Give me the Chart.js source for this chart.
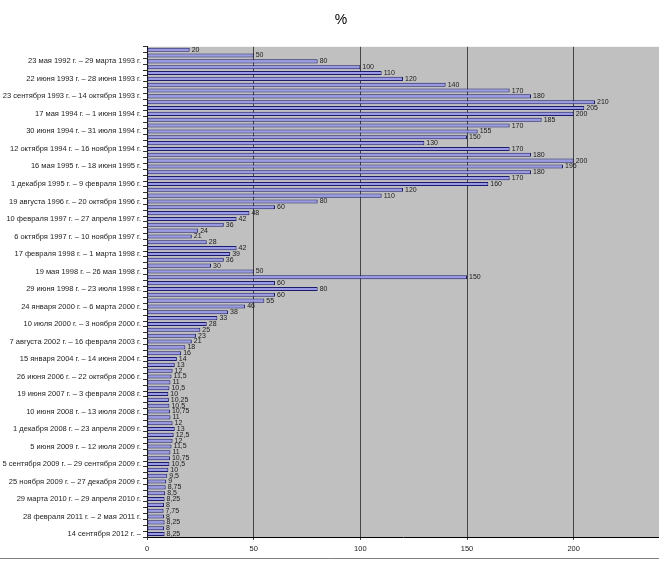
<!DOCTYPE html>
<html>
<head>
<meta charset="utf-8">
<script src="https://cdn.jsdelivr.net/npm/chart.js@4/dist/chart.umd.min.js"></script>
<style>
  html, body { margin: 0; padding: 0; background: #ffffff; }
  #wrap { width: 659px; height: 562px; position: relative; }
</style>
</head>
<body>
<div id="wrap"><canvas id="c" width="659" height="562"></canvas></div>
<script>
// Values (%), one per period, top to bottom
const values = [20, 50, 80, 100, 110, 120, 140, 170, 180, 210,
  205, 200, 185, 170, 155, 150, 130, 170, 180, 200,
  195, 180, 170, 160, 120, 110, 80, 60, 48, 42,
  36, 24, 21, 28, 42, 39, 36, 30, 50, 150,
  60, 80, 60, 55, 46, 38, 33, 28, 25, 23,
  21, 18, 16, 14, 13, 12, 11.5, 11, 10.5, 10,
  10.25, 10.5, 10.75, 11, 12, 13, 12.5, 12, 11.5, 11,
  10.75, 10.5, 10, 9.5, 9, 8.75, 8.5, 8.25, 8, 7.75,
  8, 8.25, 8, 8.25];

// Category labels that are visible (every third period, starting with the third)
const tickLabels = [
  '23 мая 1992 г. – 29 марта 1993 г.',
  '22 июня 1993 г. – 28 июня 1993 г.',
  '23 сентября 1993 г. – 14 октября 1993 г.',
  '17 мая 1994 г. – 1 июня 1994 г.',
  '30 июня 1994 г. – 31 июля 1994 г.',
  '12 октября 1994 г. – 16 ноября 1994 г.',
  '16 мая 1995 г. – 18 июня 1995 г.',
  '1 декабря 1995 г. – 9 февраля 1996 г.',
  '19 августа 1996 г. – 20 октября 1996 г.',
  '10 февраля 1997 г. – 27 апреля 1997 г.',
  '6 октября 1997 г. – 10 ноября 1997 г.',
  '17 февраля 1998 г. – 1 марта 1998 г.',
  '19 мая 1998 г. – 26 мая 1998 г.',
  '29 июня 1998 г. – 23 июля 1998 г.',
  '24 января 2000 г. – 6 марта 2000 г.',
  '10 июля 2000 г. – 3 ноября 2000 г.',
  '7 августа 2002 г. – 16 февраля 2003 г.',
  '15 января 2004 г. – 14 июня 2004 г.',
  '26 июня 2006 г. – 22 октября 2006 г.',
  '19 июня 2007 г. – 3 февраля 2008 г.',
  '10 июня 2008 г. – 13 июля 2008 г.',
  '1 декабря 2008 г. – 23 апреля 2009 г.',
  '5 июня 2009 г. – 12 июля 2009 г.',
  '5 сентября 2009 г. – 29 сентября 2009 г.',
  '25 ноября 2009 г. – 27 декабря 2009 г.',
  '29 марта 2010 г. – 29 апреля 2010 г.',
  '28 февраля 2011 г. – 2 мая 2011 г.',
  '14 сентября 2012 г. –'
];

const xTicks = [0, 50, 100, 150, 200];
const titleText = '%';

const categories = values.map((v, i) => (i % 3 === 2 ? tickLabels[(i - 2) / 3] : ''));

const fmt = v => String(v).replace('.', ',');

const FONT = "'Liberation Sans', Arial, sans-serif";

const decorPlugin = {
  id: 'decor',
  afterLayout(chart) {
    if (chart.titleBlock) { chart.titleBlock.left += 23; }
  },
  beforeDraw(chart) {
    const { ctx, chartArea } = chart;
    ctx.save();
    ctx.fillStyle = '#c0c0c0';
    ctx.fillRect(chartArea.left, chartArea.top, chartArea.right - chartArea.left, chartArea.bottom - chartArea.top);
    ctx.strokeStyle = '#808080';
    ctx.lineWidth = 1;
    ctx.beginPath();
    ctx.moveTo(0, 558.5);
    ctx.lineTo(chart.width, 558.5);
    ctx.stroke();
    ctx.restore();
  },
  afterDatasetsDraw(chart) {
    const { ctx } = chart;
    const meta = chart.getDatasetMeta(0);
    ctx.save();
    ctx.font = '7px ' + FONT;
    ctx.fillStyle = '#1a1a1a';
    ctx.textAlign = 'left';
    ctx.textBaseline = 'middle';
    meta.data.forEach((bar, i) => {
      ctx.fillText(fmt(values[i]), bar.x + 2, bar.y);
    });
    ctx.restore();
  }
};

new Chart(document.getElementById('c'), {
  type: 'bar',
  data: {
    labels: categories,
    datasets: [{
      label: '%',
      data: values,
      backgroundColor: '#9a9ae6',
      borderColor: '#1c1c6a',
      borderWidth: 1,
      borderSkipped: false,
      barPercentage: 0.7,
      categoryPercentage: 1.0
    }]
  },
  options: {
    indexAxis: 'y',
    responsive: false,
    animation: false,
    layout: { padding: { left: 0, right: 0, top: 0, bottom: 0 } },
    plugins: {
      legend: { display: false },
      tooltip: { enabled: false },
      title: {
        display: true,
        text: titleText,
        color: '#000000',
        font: { family: FONT, size: 14, weight: 'normal' },
        padding: { top: 12, bottom: 18 }
      }
    },
    scales: {
      x: {
        type: 'linear',
        min: 0,
        max: 240,
        afterBuildTicks(scale) {
          scale.ticks = xTicks.map(v => ({ value: v }));
        },
        afterFit(scale) { scale.height = 25; },
        grid: {
          color: '#444444',
          lineWidth: 1,
          drawTicks: true,
          tickLength: 3,
          tickColor: '#444444'
        },
        border: { display: true, color: '#000000', width: 1 },
        ticks: {
          color: '#222222',
          font: { family: FONT, size: 7.5 },
          padding: 4,
          maxRotation: 0
        }
      },
      y: {
        type: 'category',
        afterFit(scale) { scale.width = 147; },
        grid: {
          display: true,
          offset: true,
          drawOnChartArea: false,
          drawTicks: true,
          tickLength: 4,
          tickColor: '#333333'
        },
        border: { display: true, color: '#1a1a1a', width: 1 },
        ticks: {
          autoSkip: false,
          color: '#222222',
          font: { family: FONT, size: 7.5 },
          padding: 2
        }
      }
    }
  },
  plugins: [decorPlugin]
});
</script>
</body>
</html>
